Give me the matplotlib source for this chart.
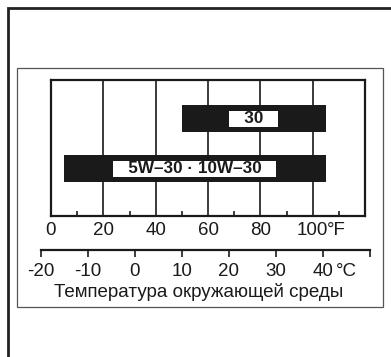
import matplotlib
matplotlib.use('Agg')
from matplotlib import pyplot as plt
from matplotlib.patches import Rectangle
import numpy as np

plt.rcParams['font.family'] = ['Liberation Sans', 'DejaVu Sans']

# oil grades and their usable range, deg F
grades  = ['5W\u201330 \u00b7 10W\u201330', '30']
lowF    = [5, 50]
highF   = [105, 105]

fTicks  = [0, 20, 40, 60, 80, 100]
fMinor  = [10, 30, 50, 70, 90, 110]
cTicks  = [-20, -10, 0, 10, 20, 30, 40, 50]
cLabels = ['-20', '-10', '0', '10', '20', '30', '40', '']
xLabel  = 'Температура окружающей среды'

W, H = 391, 357
INK  = '#1a1a1a'

def px(x0, y0, x1, y1):
	# pixel box (top-left origin) -> figure fraction [l, b, w, h]
	return [x0/W, 1 - y1/H, (x1 - x0)/W, (y1 - y0)/H]

fig = plt.figure(figsize=(W/100, H/100), dpi=100)

# outer frame (only top/left visible) and inner grey box
l, b, w, h = px(8, 8, 420, 400)
fig.add_artist(Rectangle((l, b), w, h, transform=fig.transFigure, fill=False,
						 ec='#222222', lw=2.0))
l, b, w, h = px(17, 67.5, 382.5, 307)
fig.add_artist(Rectangle((l, b), w, h, transform=fig.transFigure, fill=False,
						 ec='#555555', lw=0.9))

# main chart, deg F
fMax = 120
rect = px(51, 79.5, 365, 216)
ax   = fig.add_axes(rect)
ypos = np.arange(len(grades))
ax.barh(ypos, np.subtract(highF, lowF), left=lowF, height=0.53, color=INK, zorder=3)
for y, g, lo, hi in zip(ypos, grades, lowF, highF):
	ax.text((lo + hi)/2, y, '   ' + g + '   ', ha='center', va='center',
			fontsize=12.3, fontweight='bold', color=INK, zorder=4,
			bbox=dict(boxstyle='square,pad=0.03', fc='white', ec='none'))

ax.set_xlim(0, fMax)
ax.set_ylim(-0.946, 1.784)
ax.set_yticks([])
for s in ax.spines.values():
	s.set_linewidth(1.6)
	s.set_color(INK)
for t in fTicks[1:]:
	ax.axvline(t, color=INK, lw=1.2, zorder=2)
ax.set_xticks(fTicks)
ax.set_xticklabels([str(t) for t in fTicks])
ax.set_xticks(fMinor, minor=True)
ax.tick_params(axis='x', which='major', length=0, pad=4, labelsize=13.5, labelcolor=INK)
ax.tick_params(axis='x', which='minor', direction='in', length=3.5, width=1.2, color=INK)
ax.annotate('\u00b0F', xy=(fTicks[-1], 0), xycoords=('data', 'axes fraction'),
			xytext=(10.5, -4), textcoords='offset points', ha='left', va='top',
			fontsize=13.5, color=INK)

# celsius scale, lined up with the fahrenheit one
c2f  = lambda c: c*9/5 + 32
x0   = rect[0] + rect[2]*c2f(cTicks[0])/fMax
x1   = rect[0] + rect[2]*c2f(cTicks[-1])/fMax
cax  = fig.add_axes([x0, 1 - 250/H, x1 - x0, 0.01])
cax.set_xlim(cTicks[0], cTicks[-1])
cax.set_yticks([])
cax.patch.set_visible(False)
for k in ['top', 'left', 'right']:
	cax.spines[k].set_visible(False)
cax.spines['bottom'].set_linewidth(1.6)
cax.spines['bottom'].set_color(INK)
cax.set_xticks(cTicks)
cax.set_xticklabels(cLabels)
cax.tick_params(axis='x', direction='out', length=5, width=1.2, pad=4.5,
				labelsize=13.5, color=INK, labelcolor=INK)
cax.annotate('\u00b0C', xy=(cTicks[-2], 0), xycoords=('data', 'axes fraction'),
			 xytext=(9.5, -9.5), textcoords='offset points', ha='left', va='top',
			 fontsize=13.5, color=INK)

fig.text(198.5/W, 1 - 291.7/H, xLabel, ha='center', va='center', fontsize=13.5, color=INK)

fig.savefig('out.png', dpi=100)
